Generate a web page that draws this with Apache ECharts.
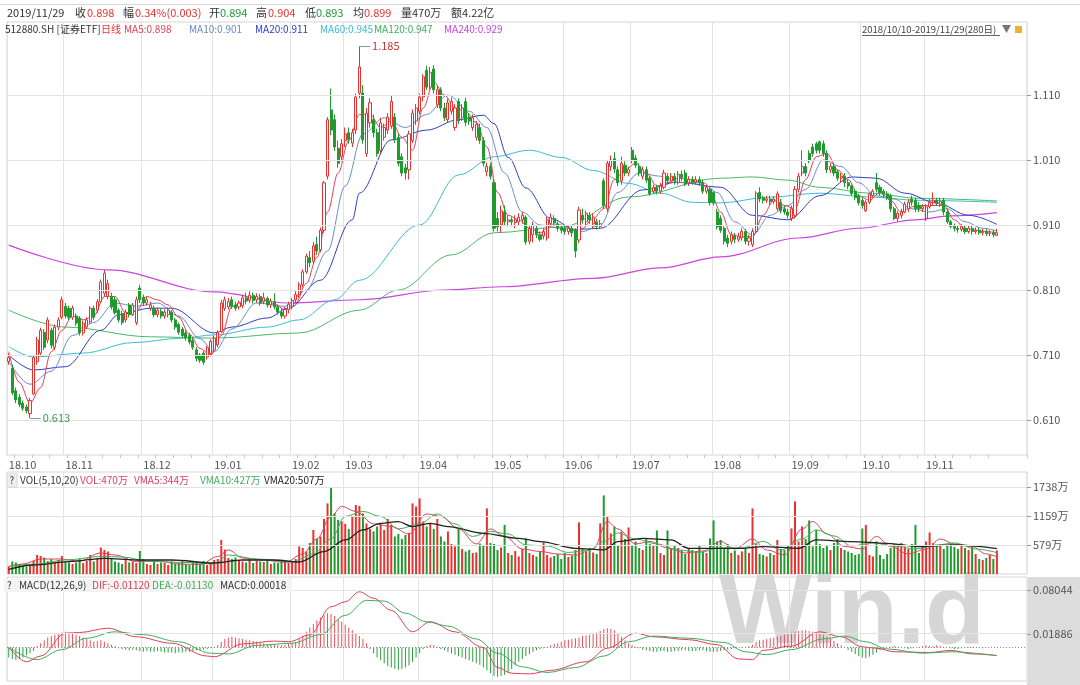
<!DOCTYPE html>
<html>
<head>
<meta charset="utf-8">
<script src="https://cdn.jsdelivr.net/npm/echarts@6.0.0/dist/echarts.min.js"></script>
<style>html,body{margin:0;padding:0;background:#fff;}#chart{width:1080px;height:685px;}</style>
</head>
<body>
<div id="chart"></div>
<script>
// ---------------- data ----------------
const monthLabels = ['18.10','18.11','18.12','19.01','19.02','19.03','19.04','19.05','19.06','19.07','19.08','19.09','19.10','19.11'];
const monthDays   = [16,22,20,22,15,21,21,20,19,23,22,20,18,21];
const padDays = 8;

// [open, close, low, high]
const ohlc = [
// 2018-10
[0.700,0.706,0.695,0.712],[0.690,0.652,0.648,0.695],[0.655,0.641,0.636,0.660],[0.645,0.634,0.630,0.650],
[0.636,0.628,0.624,0.640],[0.630,0.624,0.620,0.634],[0.620,0.640,0.613,0.644],[0.650,0.706,0.648,0.708],
[0.700,0.733,0.695,0.738],[0.713,0.748,0.710,0.752],[0.745,0.722,0.718,0.750],[0.733,0.764,0.728,0.768],
[0.748,0.725,0.720,0.752],[0.722,0.753,0.718,0.757],[0.753,0.764,0.748,0.768],[0.768,0.795,0.765,0.800],
// 2018-11
[0.785,0.770,0.766,0.790],[0.782,0.768,0.764,0.786],[0.768,0.782,0.764,0.786],[0.770,0.759,0.755,0.774],
[0.767,0.744,0.740,0.770],[0.744,0.759,0.740,0.763],[0.753,0.764,0.750,0.768],[0.761,0.782,0.758,0.785],
[0.782,0.768,0.764,0.786],[0.779,0.792,0.775,0.796],[0.792,0.822,0.790,0.826],[0.805,0.836,0.800,0.841],
[0.800,0.820,0.796,0.826],[0.800,0.784,0.780,0.806],[0.795,0.775,0.772,0.800],[0.779,0.764,0.760,0.782],
[0.774,0.760,0.756,0.778],[0.764,0.776,0.760,0.780],[0.787,0.772,0.768,0.790],[0.772,0.787,0.770,0.790],
[0.760,0.795,0.756,0.800],[0.813,0.795,0.790,0.818],
// 2018-12
[0.799,0.790,0.786,0.803],[0.790,0.795,0.786,0.800],[0.782,0.787,0.778,0.792],[0.782,0.772,0.768,0.786],
[0.772,0.779,0.768,0.783],[0.777,0.770,0.766,0.781],[0.770,0.776,0.766,0.780],[0.772,0.779,0.768,0.783],
[0.776,0.764,0.760,0.779],[0.764,0.753,0.749,0.767],[0.757,0.745,0.741,0.760],[0.750,0.740,0.736,0.753],
[0.744,0.736,0.732,0.748],[0.740,0.730,0.726,0.744],[0.732,0.722,0.718,0.736],[0.718,0.705,0.700,0.722],
[0.710,0.702,0.698,0.713],[0.713,0.699,0.695,0.716],[0.707,0.721,0.703,0.724],[0.712,0.731,0.708,0.734],
// 2019-01
[0.718,0.736,0.714,0.740],[0.726,0.744,0.722,0.748],[0.746,0.790,0.744,0.795],[0.782,0.795,0.778,0.800],
[0.784,0.792,0.780,0.798],[0.795,0.785,0.781,0.800],[0.787,0.782,0.778,0.792],[0.784,0.790,0.780,0.794],
[0.786,0.798,0.782,0.803],[0.798,0.793,0.788,0.806],[0.794,0.802,0.790,0.808],[0.802,0.794,0.789,0.806],
[0.795,0.800,0.790,0.805],[0.800,0.790,0.786,0.804],[0.792,0.798,0.788,0.806],[0.797,0.787,0.783,0.800],
[0.787,0.793,0.782,0.797],[0.792,0.784,0.780,0.805],[0.784,0.776,0.772,0.788],[0.776,0.770,0.766,0.782],
[0.770,0.780,0.766,0.784],[0.780,0.788,0.774,0.792],
// 2019-02
[0.785,0.794,0.780,0.798],[0.795,0.803,0.790,0.808],[0.803,0.818,0.798,0.822],[0.818,0.838,0.814,0.842],
[0.838,0.862,0.835,0.866],[0.860,0.852,0.845,0.870],[0.854,0.878,0.850,0.884],[0.880,0.870,0.864,0.892],
[0.872,0.902,0.868,0.906],[0.902,0.975,0.898,0.978],[0.985,1.072,0.980,1.076],[1.087,1.056,1.048,1.120],
[1.072,1.030,1.024,1.080],[1.028,1.005,0.998,1.040],[1.015,1.035,1.008,1.042],
// 2019-03
[1.040,1.050,1.030,1.060],[1.052,1.041,1.035,1.060],[1.036,1.052,1.030,1.058],[1.056,1.107,1.050,1.112],
[1.113,1.153,1.105,1.185],[1.113,1.041,1.035,1.125],[1.020,1.082,1.015,1.090],[1.067,1.098,1.060,1.105],
[1.072,1.052,1.045,1.080],[1.052,1.020,1.015,1.058],[1.025,1.067,1.020,1.075],[1.045,1.060,1.040,1.066],
[1.056,1.076,1.050,1.082],[1.062,1.100,1.058,1.110],[1.076,1.041,1.036,1.082],[1.045,1.005,1.000,1.050],
[1.015,0.990,0.985,1.020],[0.998,0.990,0.980,1.004],[0.995,1.050,0.980,1.055],[1.040,1.082,1.036,1.088],
[1.070,1.090,1.064,1.096],
// 2019-04
[1.085,1.107,1.080,1.112],[1.107,1.138,1.100,1.142],[1.148,1.122,1.118,1.155],[1.122,1.145,1.118,1.153],
[1.150,1.118,1.112,1.156],[1.095,1.118,1.090,1.124],[1.118,1.090,1.085,1.122],[1.090,1.075,1.070,1.098],
[1.072,1.098,1.068,1.104],[1.085,1.100,1.080,1.106],[1.060,1.090,1.055,1.096],[1.100,1.070,1.065,1.105],
[1.075,1.090,1.070,1.096],[1.100,1.068,1.062,1.106],[1.076,1.070,1.064,1.082],[1.060,1.075,1.055,1.080],
[1.045,1.065,1.040,1.070],[1.060,1.040,1.035,1.066],[1.040,1.005,1.000,1.045],[0.992,1.000,0.985,1.006],
[1.000,0.985,0.980,1.005],
// 2019-05
[0.975,0.905,0.900,0.980],[0.920,0.907,0.900,0.930],[0.910,0.932,0.898,0.940],[0.930,0.915,0.910,0.940],
[0.915,0.918,0.908,0.925],[0.918,0.915,0.908,0.922],[0.914,0.918,0.905,0.925],[0.915,0.922,0.910,0.928],
[0.918,0.925,0.912,0.930],[0.922,0.884,0.880,0.925],[0.885,0.905,0.880,0.910],[0.895,0.910,0.883,0.915],
[0.905,0.895,0.890,0.910],[0.895,0.888,0.885,0.900],[0.893,0.900,0.888,0.905],[0.890,0.918,0.886,0.922],
[0.912,0.922,0.908,0.928],[0.920,0.913,0.908,0.925],[0.912,0.905,0.900,0.915],[0.906,0.902,0.897,0.910],
// 2019-06
[0.905,0.900,0.895,0.910],[0.900,0.905,0.895,0.910],[0.905,0.898,0.892,0.910],[0.902,0.870,0.860,0.905],
[0.887,0.933,0.882,0.938],[0.925,0.918,0.912,0.935],[0.915,0.928,0.910,0.932],[0.925,0.918,0.912,0.930],
[0.912,0.922,0.905,0.928],[0.915,0.908,0.903,0.920],[0.908,0.912,0.905,0.918],[0.978,0.940,0.935,0.982],
[0.935,1.005,0.930,1.010],[1.000,1.010,0.993,1.017],[1.012,0.996,0.990,1.022],[0.995,0.975,0.970,1.000],
[0.978,1.005,0.972,1.015],[1.002,0.990,0.985,1.008],[0.990,0.995,0.985,1.000],
// 2019-07
[1.025,1.010,1.005,1.030],[1.013,1.002,0.998,1.018],[1.000,0.990,0.985,1.005],[0.985,0.995,0.980,1.000],
[0.995,0.979,0.975,1.000],[0.982,0.958,0.955,0.985],[0.962,0.968,0.958,0.972],[0.968,0.962,0.957,0.972],
[0.962,0.970,0.958,0.975],[0.968,0.990,0.965,0.995],[0.985,0.978,0.972,0.990],[0.978,0.985,0.975,0.990],
[0.985,0.978,0.972,0.990],[0.975,0.988,0.972,0.993],[0.988,0.983,0.978,0.994],[0.990,0.973,0.970,0.995],
[0.975,0.980,0.970,0.985],[0.980,0.976,0.972,0.985],[0.976,0.980,0.972,0.985],[0.980,0.975,0.970,0.985],
[0.975,0.962,0.958,0.980],[0.962,0.968,0.958,0.972],[0.965,0.945,0.940,0.968],
// 2019-08
[0.960,0.944,0.940,0.962],[0.930,0.907,0.903,0.935],[0.920,0.902,0.898,0.925],[0.905,0.885,0.880,0.908],
[0.890,0.882,0.876,0.895],[0.885,0.895,0.880,0.900],[0.893,0.888,0.882,0.898],[0.888,0.892,0.884,0.898],
[0.890,0.900,0.886,0.905],[0.900,0.885,0.880,0.904],[0.885,0.890,0.878,0.895],[0.880,0.900,0.876,0.905],
[0.900,0.959,0.898,0.962],[0.960,0.950,0.945,0.968],[0.952,0.948,0.943,0.955],[0.948,0.950,0.944,0.955],
[0.950,0.946,0.940,0.955],[0.946,0.950,0.942,0.954],[0.935,0.958,0.932,0.962],[0.945,0.932,0.928,0.950],
[0.935,0.930,0.926,0.940],[0.930,0.925,0.920,0.935],
// 2019-09
[0.920,0.935,0.916,0.940],[0.925,0.965,0.920,0.970],[0.965,0.985,0.960,0.990],[0.990,1.000,0.985,1.025],
[1.000,0.990,0.985,1.005],[1.020,1.010,1.005,1.025],[1.030,1.020,1.015,1.035],[1.035,1.025,1.020,1.038],
[1.038,1.025,1.020,1.040],[1.035,1.020,1.015,1.040],[1.020,0.995,0.990,1.025],[0.995,1.000,0.990,1.005],
[1.000,0.990,0.985,1.005],[0.992,0.982,0.978,0.995],[0.982,0.985,0.975,0.990],[0.985,0.975,0.968,0.990],
[0.975,0.970,0.965,0.980],[0.970,0.958,0.955,0.972],[0.962,0.952,0.948,0.965],[0.955,0.944,0.940,0.958],
// 2019-10
[0.948,0.940,0.935,0.952],[0.932,0.945,0.930,0.948],[0.945,0.958,0.942,0.960],[0.955,0.962,0.952,0.965],
[0.975,0.965,0.960,0.990],[0.968,0.960,0.955,0.972],[0.962,0.958,0.952,0.965],[0.958,0.952,0.948,0.962],
[0.955,0.935,0.930,0.958],[0.935,0.920,0.917,0.938],[0.920,0.928,0.915,0.932],[0.925,0.930,0.920,0.935],
[0.930,0.942,0.928,0.946],[0.935,0.945,0.930,0.950],[0.950,0.945,0.940,0.955],[0.948,0.935,0.930,0.952],
[0.940,0.935,0.930,0.945],[0.935,0.938,0.930,0.942],
// 2019-11
[0.920,0.938,0.916,0.942],[0.938,0.945,0.935,0.950],[0.945,0.948,0.940,0.960],[0.948,0.943,0.940,0.952],
[0.942,0.946,0.938,0.952],[0.948,0.930,0.925,0.952],[0.930,0.915,0.912,0.933],[0.915,0.908,0.905,0.918],
[0.908,0.905,0.900,0.912],[0.905,0.903,0.898,0.910],[0.903,0.908,0.900,0.912],[0.905,0.900,0.896,0.910],
[0.900,0.905,0.897,0.910],[0.905,0.900,0.895,0.910],[0.900,0.902,0.896,0.906],[0.902,0.898,0.895,0.906],
[0.898,0.900,0.894,0.904],[0.900,0.897,0.893,0.904],[0.897,0.898,0.893,0.902],[0.898,0.895,0.891,0.902],
[0.894,0.898,0.893,0.904]
];

// moving averages, read as [dayIndex, value]
const ma5Pts = [[0,0.715],[3,0.668],[6,0.636],[9,0.66],[12,0.715],[15,0.748],[18,0.77],[21,0.764],[24,0.77],[27,0.8],[30,0.80],[33,0.775],[36,0.778],[39,0.8],[42,0.795],[45,0.787],[48,0.768],[51,0.742],[54,0.72],[57,0.71],[60,0.74],[63,0.784],[66,0.792],[69,0.8],[72,0.795],[75,0.788],[78,0.78],[81,0.79],[84,0.82],[87,0.86],[90,0.93],[93,0.99],[96,1.04],[99,1.08],[102,1.08],[105,1.06],[108,1.07],[111,1.045],[114,1.025],[117,1.09],[120,1.13],[123,1.11],[126,1.09],[129,1.085],[132,1.068],[135,1.03],[138,0.96],[141,0.925],[144,0.918],[147,0.905],[150,0.898],[153,0.91],[156,0.91],[159,0.902],[162,0.905],[165,0.92],[168,0.935],[171,0.98],[174,0.995],[177,1.005],[180,0.99],[183,0.97],[186,0.975],[189,0.982],[192,0.98],[195,0.977],[198,0.962],[201,0.93],[204,0.895],[207,0.892],[210,0.892],[213,0.925],[216,0.948],[219,0.94],[222,0.935],[225,0.98],[228,1.015],[231,1.02],[234,0.995],[237,0.98],[240,0.955],[243,0.948],[246,0.96],[249,0.948],[252,0.93],[255,0.938],[258,0.94],[261,0.94],[264,0.94],[267,0.918],[270,0.905],[273,0.902],[276,0.9],[279,0.898]];
const ma10Pts = [[0,0.700],[6,0.665],[12,0.685],[18,0.740],[24,0.760],[30,0.790],[36,0.785],[42,0.790],[48,0.770],[54,0.735],[58,0.715],[63,0.750],[70,0.790],[78,0.785],[84,0.810],[90,0.870],[95,0.970],[100,1.050],[106,1.075],[112,1.060],[118,1.080],[124,1.110],[130,1.085],[135,1.060],[140,0.990],[145,0.930],[150,0.910],[156,0.905],[162,0.900],[167,0.910],[172,0.960],[178,0.990],[184,0.985],[190,0.975],[196,0.975],[200,0.960],[205,0.915],[210,0.895],[215,0.925],[220,0.940],[225,0.965],[230,1.010],[235,1.000],[240,0.975],[245,0.955],[250,0.950],[255,0.935],[260,0.930],[265,0.935],[270,0.915],[275,0.905],[279,0.901]];
const ma20Pts = [[0,0.710],[7,0.687],[16,0.692],[26,0.748],[31,0.772],[40,0.782],[46,0.782],[58,0.744],[63,0.753],[73,0.767],[79,0.782],[88,0.825],[97,0.918],[99,0.959],[108,1.041],[118,1.056],[127,1.072],[134,1.079],[137,1.066],[141,1.014],[146,0.967],[153,0.920],[160,0.903],[167,0.905],[179,0.964],[189,0.976],[201,0.968],[210,0.925],[220,0.918],[229,0.955],[238,0.984],[245,0.982],[253,0.959],[262,0.944],[271,0.925],[279,0.911]];
const ma60Pts = [[0,0.723],[7,0.707],[21,0.713],[35,0.729],[49,0.736],[58,0.741],[73,0.753],[82,0.764],[92,0.795],[99,0.825],[116,0.910],[127,0.987],[137,1.015],[147,1.025],[156,1.014],[165,0.994],[175,0.974],[184,0.959],[193,0.945],[201,0.944],[215,0.953],[229,0.959],[243,0.953],[257,0.948],[279,0.945]];
const ma120Pts = [[0,0.779],[16,0.753],[40,0.738],[58,0.736],[82,0.744],[99,0.779],[110,0.810],[125,0.864],[137,0.898],[156,0.907],[175,0.953],[201,0.982],[210,0.984],[220,0.979],[229,0.968],[243,0.959],[257,0.951],[279,0.947]];
const ma240Pts = [[0,0.879],[28,0.841],[58,0.807],[79,0.790],[99,0.795],[123,0.810],[139,0.815],[165,0.828],[184,0.844],[201,0.861],[223,0.890],[240,0.905],[256,0.918],[266,0.924],[279,0.929]];

// volume (万)
const volumes = [
150,250,230,200,160,150,170,260,380,360, 330,260,300,240,280,360,250,230,200,230,
300,220,260,380,250,320,530,480,450,300, 250,230,200,280,230,250,220,460,300,200,
180,240,200,230,220,180,250,200,220,260, 200,180,230,240,200,260,180,220,280,300,
680,490,320,300,330,280,250,230,300,220, 260,250,240,280,200,230,220,260,250,230,
260,300,550,520,450,620,880,700,750,1100, 1410,1738,1210,1080,1050,1000,900,1150,1380,1360,
1210,1010,900,850,950,1010,880,1100,980,750, 800,700,780,820,1410,1350,1510,1050,950,1020,
900,1100,750,650,850,600,550,910,500,450, 480,420,430,610,580,1310,620,600,480,530,
980,420,380,460,350,500,710,420,380,350, 450,630,380,330,360,400,300,420,340,370,
480,1030,500,450,520,430,400,1010,1570,1160, 810,950,580,850,700,930,580,650,520,480,
710,600,560,870,420,380,870,500,560,520, 480,400,520,480,440,560,450,420,710,1070,
650,680,500,600,420,470,380,450,500,420, 1310,610,400,380,350,420,380,680,500,480,
560,910,1450,650,950,700,1070,550,880,600, 520,580,480,620,700,520,480,450,420,380,
400,910,980,380,350,650,380,300,400,520, 600,560,620,550,500,600,980,420,560,650,
830,620,560,600,500,580,600,540,500,560, 520,480,560,400,300,280,320,380,300,470
];
const vma5Pts = [[0,150],[4,200],[9,300],[14,300],[20,260],[26,420],[30,380],[36,250],[42,260],[48,200],[54,190],[59,350],[62,480],[66,320],[72,280],[78,230],[83,400],[87,700],[91,1150],[94,1350],[98,1250],[103,1000],[108,950],[113,800],[118,1200],[122,1150],[127,900],[132,600],[136,900],[140,750],[145,500],[150,450],[155,400],[160,380],[165,500],[169,1050],[172,900],[177,600],[181,650],[186,520],[191,420],[196,460],[201,650],[205,500],[210,700],[214,480],[219,380],[224,900],[227,1050],[231,800],[236,550],[241,500],[245,750],[249,550],[254,400],[259,500],[263,700],[267,600],[272,550],[276,400],[279,344]];
const vma10Pts = [[0,150],[8,200],[16,280],[26,350],[32,340],[40,250],[50,230],[58,200],[62,380],[70,300],[80,240],[86,400],[91,700],[95,1150],[100,1250],[105,1150],[110,900],[116,1000],[121,1200],[126,1000],[131,750],[136,850],[141,800],[146,580],[152,560],[158,430],[164,480],[168,650],[172,820],[177,700],[183,600],[189,480],[195,430],[201,520],[207,520],[213,650],[218,480],[224,700],[228,880],[233,760],[238,560],[244,620],[250,560],[256,500],[262,580],[267,620],[273,500],[279,427]];
const vma20Pts = [[0,93],[7,180],[17,247],[27,313],[36,280],[46,280],[58,220],[66,280],[75,280],[82,240],[89,447],[95,680],[100,880],[105,1013],[110,1047],[114,947],[119,1013],[124,947],[134,813],[144,713],[150,647],[160,513],[168,480],[172,647],[179,713],[187,680],[192,513],[199,513],[207,513],[213,547],[223,513],[228,680],[238,647],[248,613],[257,547],[267,580],[279,507]];

// MACD histogram, in thousandths
const macdHist = [
-14,-16,-17,-16,-14,-11,-8,-5, 2,6,10,14,16,18,20,21, 22,21,20,18,16,14,12,10, 8,9,10,8,6,4,2,
-1,-2,-3,-4,-3,-4,-5,-6,-5,-6, -6,-5,-6,-7,-7,-7,-8,-7,-7,-6, -6,-5,-4,-4,-3,-2,-1,1,3,
8,12,14,15,14,13,12,11,10,9, 8,7,6,5,5,4,3,3,4,5,6, 8,12,16,22,28,33,38,42,45,48,
47,44,40,36,32,28,24,20,16,12,6, -2,-8,-14,-18,-22,-26,-28,-30,-31,-30,-28,
-25,-20,-14,-8,-2,2,4,3,1,-2, -4,-6,-8,-10,-12,-14,-16,-18,-20,-22,-24,
-28,-32,-36,-40,-41,-40,-38,-35,-30,-25,-20, -16,-12,-9,-6,-4,-2,-1,
1,3,5,6,8,10,11,12,13,14,16, 17,18,19,21,23,26,27,26,24,20,15, 10,6,3,1,-1,
-3,-4,-5,-6,-6,-5,-5,-6,-6,-5,-5,-4, -4,-5,-5,-5,-4,-4,-5,-6,-6,-6,-5,-4,
-3,-2,-1,0,1,1,2, 4,8,10,11,12,13,14,15,16,18,20, 21,22,23,24,24,23,22,21,20,18,
15,12,9,6,3,0,-3,-6,-9, -12,-14,-15,-13,-10,-7,-4, -2,0,1,2,1,0,-1,-2,-1,0,1,2,
3,2,2,3,2,1,0,-1,-2,-2,-1, 0,1,1,0,0,-1,0,0,0,0.2
];
const difPts = [[0,0.0],[5,-0.020],[9,-0.012],[16,0.020],[20,0.021],[28,0.027],[36,0.015],[46,0.006],[56,-0.012],[58,-0.013],[66,0.005],[75,0.009],[79,0.008],[85,0.0176],[91,0.057],[95,0.064],[99,0.078],[103,0.069],[108,0.052],[114,0.022],[119,0.036],[126,0.022],[134,0.0],[138,-0.028],[142,-0.036],[147,-0.037],[153,-0.032],[163,-0.020],[169,-0.001],[177,0.020],[182,0.015],[192,0.011],[200,0.004],[206,-0.016],[210,-0.017],[213,-0.004],[221,0.002],[229,0.022],[235,0.015],[241,0.001],[245,-0.001],[250,-0.006],[260,-0.007],[266,-0.004],[272,-0.009],[279,-0.0112]];
const deaPts = [[0,0.0],[8,-0.017],[15,-0.003],[22,0.013],[30,0.022],[38,0.018],[48,0.008],[57,-0.008],[62,-0.009],[70,0.003],[80,0.006],[88,0.018],[95,0.045],[101,0.066],[106,0.065],[112,0.048],[118,0.036],[124,0.030],[132,0.012],[138,-0.008],[145,-0.027],[152,-0.035],[160,-0.028],[168,-0.012],[175,0.008],[182,0.016],[192,0.013],[202,0.007],[208,-0.006],[214,-0.010],[221,-0.003],[230,0.012],[236,0.016],[242,0.008],[248,-0.002],[258,-0.008],[266,-0.006],[279,-0.0113]];

const priceTicks = [0.61,0.71,0.81,0.91,1.01,1.11];
const volTicks = [579.33,1158.67,1738];
const macdTicks = [0.01886,0.08044];

// ---------------- chart ----------------
const RED = '#e8322f', GREEN = '#1f9b2e';
const FONT = '"Noto Sans CJK SC","Noto Sans",sans-serif';

const categories = [];
const labelAt = {};
monthLabels.forEach((m, k) => {
  for (let d = 0; d < monthDays[k]; d++) {
    if (d === 0) labelAt[categories.length] = m;
    categories.push(m + '-' + (d + 1));
  }
});
for (let k = 0; k < padDays; k++) categories.push('pad' + k);
const isMonthStart = (i) => labelAt[i] !== undefined;

function xAxisCfg(gi, showLabel) {
  return {
    type: 'category', gridIndex: gi, data: categories, boundaryGap: true,
    axisLine: { show: false },
    axisTick: { show: showLabel, interval: (i) => i % 5 === 2 && i < 280, length: 3, lineStyle: { color: '#c4c4c4' } },
    axisLabel: { show: showLabel, interval: (i) => isMonthStart(i), formatter: (v, i) => labelAt[i] || '',
      align: 'left', color: '#555', fontSize: 11, margin: 4, fontFamily: FONT },
    splitLine: { show: true, interval: (i) => isMonthStart(i), lineStyle: { color: '#e3e3e3', width: 1 } }
  };
}
function yAxisCfg(gi, min, max, ticks, fmt) {
  return {
    type: 'value', gridIndex: gi, position: 'right', min, max, scale: true,
    axisLine: { show: false },
    axisTick: { show: true, customValues: ticks, length: 4, lineStyle: { color: '#999' } },
    axisLabel: { customValues: ticks, formatter: fmt, color: '#555', fontSize: 11, margin: 6, fontFamily: FONT },
    splitLine: { show: false }
  };
}
function sparseLine(name, pts, color, gi, width) {
  return { name, type: 'line', xAxisIndex: gi, yAxisIndex: gi, data: pts, showSymbol: false, symbol: 'none',
    smooth: 0.35, smoothMonotone: 'x', lineStyle: { color, width: width || 1 }, silent: true, z: 3 };
}
function gridLines(gi, vals, extra) {
  const data = vals.map(v => ({ yAxis: v }));
  return { type: 'line', xAxisIndex: gi, yAxisIndex: gi, data: [], z: 0, silent: true,
    markLine: { silent: true, symbol: 'none', label: { show: false }, animation: false,
      lineStyle: { color: '#e3e3e3', type: 'solid', width: 1 }, data: data.concat(extra || []) } };
}

const volData = volumes.map((v, i) => ({ value: v, itemStyle: { color: ohlc[i][1] >= ohlc[i][0] ? RED : GREEN } }));
const histData = macdHist.map(v => ({ value: v / 1000, itemStyle: { color: v >= 0 ? '#e8505a' : '#2aa03a' } }));

function T(x, y, text, color, size) {
  return { type: 'text', x, y, z: 20, style: { text, fill: color, font: (size || 12) + 'px ' + FONT, verticalAlign: 'middle', align: 'left' } };
}
const DARK = '#333', VRED = '#e0405a', VGREEN = '#3fae5a';
const graphics = [
  { type: 'rect', z: -10, shape: { x: 1027, y: 577, width: 53, height: 108 }, style: { fill: '#dcdcdc' } },
  { type: 'text', z: -5, x: 719, y: 616, style: { text: 'Win.d', fill: '#d6d6d6', font: 'bold 98px "Liberation Sans", sans-serif', verticalAlign: 'middle', align: 'left' } },
  { type: 'line', z: 20, shape: { x1: 0, y1: 4.5, x2: 1080, y2: 4.5 }, style: { stroke: '#d6d6d6', lineWidth: 1 } },
  T(7, 13, '2019/11/29', DARK, 11), T(75, 13, '收', DARK, 11), T(87, 13, '0.898', RED, 11), T(123, 13, '幅', DARK, 11),
  T(135, 13, '0.34%(0.003)', RED, 11), T(209, 13, '开', DARK, 11), T(220, 13, '0.894', GREEN, 11), T(256, 13, '高', DARK, 11),
  T(268, 13, '0.904', RED, 11), T(305, 13, '低', DARK, 11), T(316, 13, '0.893', GREEN, 11), T(353, 13, '均', DARK, 11),
  T(364, 13, '0.899', RED, 11), T(401, 13, '量', DARK, 11), T(412, 13, '470万', DARK, 11), T(451, 13, '额', DARK, 11), T(462, 13, '4.22亿', DARK, 11),
  T(5, 29, '512880.SH [证券ETF]', DARK, 10), T(101, 29, '日线', RED, 10), T(124, 29, 'MA5:0.898', VRED, 10),
  T(189, 29, 'MA10:0.901', '#6a8dc8', 10), T(255, 29, 'MA20:0.911', '#2b3fc4', 10), T(320, 29, 'MA60:0.945', '#3cbcd4', 10),
  T(374, 29, 'MA120:0.947', VGREEN, 10), T(444, 29, 'MA240:0.929', '#cc44dd', 10),
  T(862, 29, '2018/10/10-2019/11/29(280日)', '#444', 9.5),
  { type: 'line', z: 20, shape: { x1: 862, y1: 35.5, x2: 1000, y2: 35.5 }, style: { stroke: '#666', lineWidth: 1 } },
  { type: 'polygon', z: 20, shape: { points: [[1002, 25], [1011, 25], [1006.5, 33]] }, style: { fill: '#777' } },
  { type: 'rect', z: 20, shape: { x: 1015, y: 26, width: 7, height: 7 }, style: { fill: '#f0b030' } },
  { type: 'rect', z: 19, shape: { x: 7, y: 474, width: 10, height: 13 }, style: { fill: '#eeeeee', stroke: '#d8d8d8' } },
  T(9.5, 480.5, '?', DARK, 10), T(20, 480.5, 'VOL(5,10,20)', DARK, 10), T(80, 480.5, 'VOL:470万', VRED, 10),
  T(134, 480.5, 'VMA5:344万', VRED, 10), T(200, 480.5, 'VMA10:427万', VGREEN, 10), T(264, 480.5, 'VMA20:507万', '#222', 10),
  { type: 'rect', z: 19, shape: { x: 4, y: 579, width: 288, height: 13 }, style: { fill: '#f4f4f4' } },
  T(7, 585.5, '?', DARK, 10), T(19, 585.5, 'MACD(12,26,9)', DARK, 10), T(92, 585.5, 'DIF:-0.01120', VRED, 10),
  T(152, 585.5, 'DEA:-0.01130', VGREEN, 10), T(220, 585.5, 'MACD:0.00018', DARK, 10)
];

const option = {
  animation: false,
  backgroundColor: '#ffffff',
  graphic: { elements: graphics },
  grid: [
    { left: 7, right: 53, top: 22, height: 433, show: true, borderColor: '#d6d6d6', borderWidth: 1, backgroundColor: 'transparent' },
    { left: 7, right: 53, top: 472, height: 102, show: true, borderColor: '#d6d6d6', borderWidth: 1, backgroundColor: 'transparent' },
    { left: 7, right: 53, top: 577, height: 104, show: true, borderColor: '#d6d6d6', borderWidth: 1, backgroundColor: 'transparent' }
  ],
  xAxis: [xAxisCfg(0, true), xAxisCfg(1, false), xAxisCfg(2, false)],
  yAxis: [
    yAxisCfg(0, 0.5562, 1.2223, priceTicks, v => v.toFixed(3)),
    yAxisCfg(1, 0, 2037, volTicks, v => Math.round(v) + '万'),
    yAxisCfg(2, -0.0469, 0.0987, macdTicks, v => v.toFixed(5))
  ],
  series: [
    gridLines(0, priceTicks),
    gridLines(1, volTicks),
    gridLines(2, macdTicks, [{ yAxis: 0, lineStyle: { color: '#8a8a8a', type: [1, 2], width: 1 } }]),
    {
      name: 'K', type: 'candlestick', xAxisIndex: 0, yAxisIndex: 0, data: ohlc, barWidth: '72%', z: 4,
      itemStyle: { color: '#ffffff', color0: GREEN, borderColor: RED, borderColor0: GREEN, borderWidth: 1 },
      markLine: {
        silent: true, symbol: 'none', animation: false,
        data: [
          [{ coord: [99, 1.185], lineStyle: { color: '#7f95b8', type: 'solid', width: 1 }, label: { show: true, position: 'end', formatter: '1.185', color: '#c0392b', fontSize: 11, fontFamily: FONT, distance: 2 } },
           { coord: [102, 1.185], lineStyle: { color: '#7f95b8', type: 'solid', width: 1 }, label: { show: true, position: 'end', formatter: '1.185', color: '#c0392b', fontSize: 11, fontFamily: FONT, distance: 2 } }],
          [{ coord: [6, 0.613], lineStyle: { color: '#7f95b8', type: 'solid', width: 1 }, label: { show: true, position: 'end', formatter: '0.613', color: '#3a9a4a', fontSize: 11, fontFamily: FONT, distance: 2 } },
           { coord: [9, 0.613], lineStyle: { color: '#7f95b8', type: 'solid', width: 1 }, label: { show: true, position: 'end', formatter: '0.613', color: '#3a9a4a', fontSize: 11, fontFamily: FONT, distance: 2 } }]
        ]
      }
    },
    sparseLine('MA240', ma240Pts, '#cc44dd', 0, 1.2),
    sparseLine('MA120', ma120Pts, '#4cb86a', 0),
    sparseLine('MA60', ma60Pts, '#3cbcd4', 0),
    sparseLine('MA20', ma20Pts, '#2b3fc4', 0),
    sparseLine('MA10', ma10Pts, '#6a8dc8', 0),
    sparseLine('MA5', ma5Pts, '#e0405a', 0),
    { name: 'VOL', type: 'bar', xAxisIndex: 1, yAxisIndex: 1, data: volData, barWidth: 2, z: 2, silent: true },
    sparseLine('VMA5', vma5Pts, VRED, 1),
    sparseLine('VMA10', vma10Pts, VGREEN, 1),
    sparseLine('VMA20', vma20Pts, '#222', 1, 1.3),
    { name: 'MACD', type: 'bar', xAxisIndex: 2, yAxisIndex: 2, data: histData, barWidth: 1, z: 2, silent: true },
    sparseLine('DIF', difPts, '#e0405a', 2),
    sparseLine('DEA', deaPts, VGREEN, 2)
  ]
};
const chart = echarts.init(document.getElementById('chart'));
chart.setOption(option);
</script>
</body>
</html>
